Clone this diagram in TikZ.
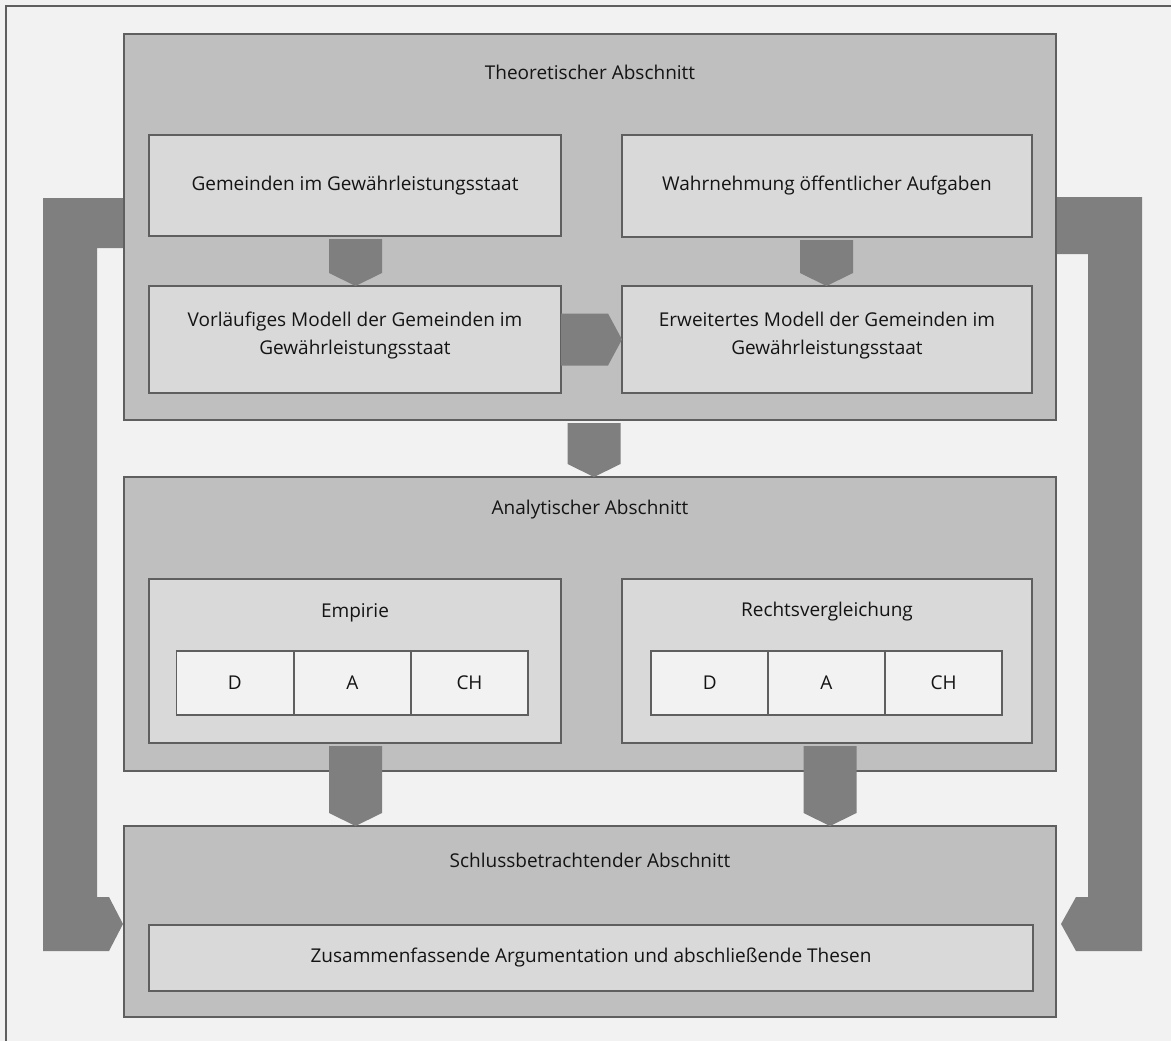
\documentclass[tikz,border=0pt]{standalone}
\usepackage{fontspec}
\setmainfont{Open Sans}
\usetikzlibrary{calc}
\definecolor{bgpaper}{HTML}{F2F2F2}
\definecolor{secfill}{HTML}{BFBFBF}
\definecolor{boxfill}{HTML}{D9D9D9}
\definecolor{cellfill}{HTML}{F2F2F2}
\definecolor{arrowgray}{HTML}{7F7F7F}
\definecolor{edgegray}{HTML}{5F5F5F}
\definecolor{inkgray}{HTML}{141414}
\tikzset{
  base/.style={draw=edgegray, line width=1.5pt, inner sep=0pt, outer sep=0pt, rectangle},
  section/.style={base, fill=secfill},
  inbox/.style={base, fill=boxfill, align=center, font=\fontsize{19}{28}\selectfont, text=inkgray},
  cell/.style={base, fill=cellfill, minimum width=117pt, minimum height=64pt, font=\fontsize{19}{22}\selectfont, text=inkgray},
  title/.style={font=\fontsize{19}{22}\selectfont, text=inkgray, inner sep=0pt},
  blockarrow/.style={fill=arrowgray, draw=none},
}
% downward block arrow centred at x=#1 from the bottom of node #2 to the top of node #3
\newcommand\arrowdown[3]{%
  \fill[blockarrow] let \p1=(#2.south), \p2=(#3.north) in
    ({#1pt-26.5pt},{\y1-3pt}) -- ({#1pt+26.5pt},{\y1-3pt}) -- ({#1pt+26.5pt},{\y2+13pt})
    -- (#1pt,\y2) -- ({#1pt-26.5pt},{\y2+13pt}) -- cycle;}
\begin{document}
\begin{tikzpicture}[x=1pt,y=-1pt]
\useasboundingbox (0,0) rectangle (1171,1041);
\fill[bgpaper] (0,0) rectangle (1171,1041);
\draw[edgegray, line width=1.5pt] (6,1045) -- (6,6) -- (1175,6);

% feedback loops behind the sections
\fill[blockarrow] (124,198) -- (43,198) -- (43,951) -- (109,951) -- (123,924)
  -- (109,897) -- (97,897) -- (97,248) -- (124,248) -- cycle;
\fill[blockarrow] (1056,197) -- (1142,197) -- (1142,951) -- (1076,951) -- (1061,924)
  -- (1076,897) -- (1088,897) -- (1088,254) -- (1056,254) -- cycle;

% theoretical section
\node[section, minimum width=932pt, minimum height=386pt] (theo) at (590,227) {};
\node[title] (theoT) at (590,72) {Theoretischer Abschnitt};
\node[inbox, minimum width=412pt, minimum height=101pt] (gem) at (355,185.5) {Gemeinden im Gewährleistungsstaat};
\node[inbox, minimum width=410pt, minimum height=102pt] (wahr) at (827,186) {Wahrnehmung öffentlicher Aufgaben};
\node[inbox, minimum width=412pt, minimum height=107pt] (vorl) at (355,339.5) {Vorläufiges Modell der Gemeinden im\\Gewährleistungsstaat\\[-16pt]\mbox{}};
\node[inbox, minimum width=410pt, minimum height=107pt] (erw) at (827,339.5) {Erweitertes Modell der Gemeinden im\\Gewährleistungsstaat\\[-16pt]\mbox{}};
\arrowdown{355.5}{gem}{vorl}
\arrowdown{826.5}{wahr}{erw}
\fill[blockarrow] let \p1=(vorl.east), \p2=(erw.west) in
  (\x1,{\y1+26pt}) -- ({\x2-14pt},{\y1+26pt}) -- (\x2,{\y1+0pt})
  -- ({\x2-14pt},{\y1-26pt}) -- (\x1,{\y1-26pt}) -- cycle;

% analytical section
\node[section, minimum width=932pt, minimum height=294pt] (ana) at (590,624) {};
\arrowdown{594}{theo}{ana}
\node[title] (anaT) at (590,510) {Analytischer Abschnitt};
\node[base, fill=boxfill, minimum width=412pt, minimum height=164pt] (emp) at (355,661) {};
\node[title] (empT) at (355,613) {Empirie};
\node[cell] (empD) at (234.8,683) {D};
\node[cell] (empA) at (352.3,683) {A};
\node[cell] (empCH) at (469.5,683) {CH};
\node[base, fill=boxfill, minimum width=410pt, minimum height=164pt] (rv) at (827,661) {};
\node[title] (rvT) at (827,612) {Rechtsvergleichung};
\node[cell] (rvD) at (709.7,683) {D};
\node[cell] (rvA) at (826.3,683) {A};
\node[cell] (rvCH) at (943.7,683) {CH};

% concluding section
\node[section, minimum width=932pt, minimum height=191pt] (schl) at (590,921.5) {};
\node[title] (schlT) at (590,860) {Schlussbetrachtender Abschnitt};
\node[inbox, minimum width=884pt, minimum height=66pt] (zus) at (591,958) {Zusammenfassende Argumentation und abschließende Thesen};
\arrowdown{355.5}{emp}{schl}
\arrowdown{830}{rv}{schl}
\end{tikzpicture}
\end{document}
